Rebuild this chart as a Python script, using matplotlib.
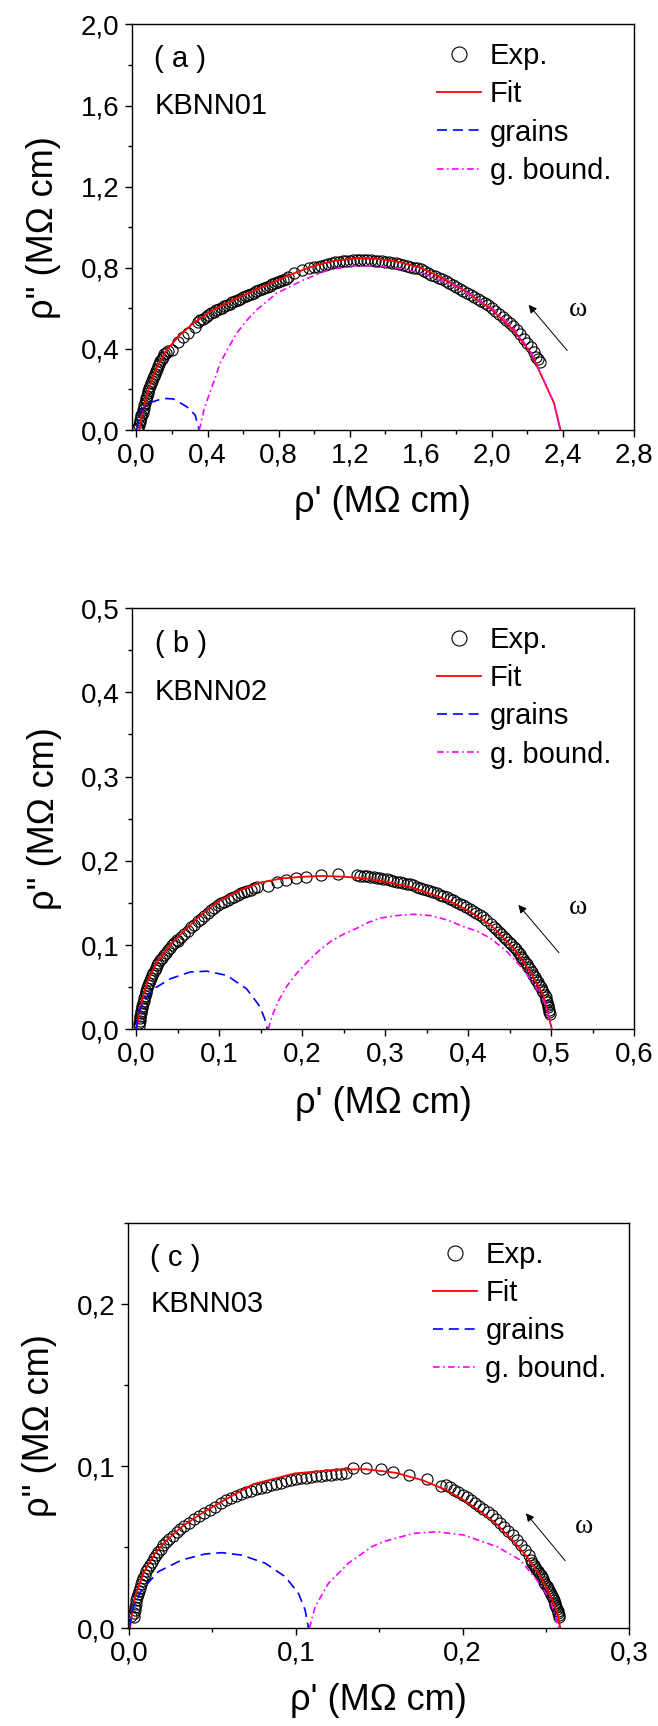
import matplotlib
matplotlib.use('Agg')
import matplotlib.pyplot as plt
from matplotlib.ticker import MultipleLocator, FuncFormatter

plt.rcParams['font.family'] = ['Liberation Sans', 'DejaVu Sans']

# ---------------- panel (a) KBNN01 ----------------
a_exp_x = [0.005, 0.009, 0.0135, 0.017, 0.02, 0.024, 0.028, 0.0345, 0.038, 0.041, 0.045, 0.048,
           0.052, 0.055, 0.059, 0.062, 0.066, 0.0705, 0.076, 0.081, 0.086, 0.0915, 0.097, 0.102,
           0.107, 0.113, 0.1195, 0.127, 0.134, 0.142, 0.149, 0.157, 0.168, 0.18,
           0.198, 0.236, 0.264, 0.292, 0.33,
           0.345, 0.36, 0.375, 0.39, 0.405, 0.42, 0.435, 0.45, 0.465, 0.48, 0.495, 0.51, 0.525,
           0.54, 0.555, 0.57, 0.585, 0.60, 0.615, 0.63, 0.645, 0.66, 0.675, 0.69, 0.705, 0.72,
           0.735, 0.75, 0.765, 0.78, 0.795, 0.81, 0.825, 0.84, 0.855,
           0.886, 0.929, 0.969,
           1.00, 1.02, 1.04, 1.06, 1.08, 1.10, 1.12, 1.14, 1.16, 1.18, 1.20, 1.22, 1.24, 1.26,
           1.28, 1.30, 1.32, 1.34, 1.36, 1.38, 1.40, 1.42, 1.44, 1.46, 1.48, 1.50, 1.52, 1.54,
           1.56, 1.58, 1.60, 1.62, 1.64, 1.66, 1.68, 1.70, 1.72, 1.74, 1.76, 1.78, 1.80, 1.82,
           1.84, 1.86, 1.88, 1.90, 1.92, 1.94, 1.96, 1.98, 2.00, 2.02, 2.04, 2.06, 2.08, 2.10,
           2.12, 2.14, 2.16, 2.18, 2.20, 2.22, 2.235, 2.25, 2.262, 2.272]
a_exp_y = [0.01, 0.012, 0.025, 0.038, 0.05, 0.062, 0.074, 0.086, 0.098, 0.11, 0.122, 0.134,
           0.146, 0.158, 0.17, 0.182, 0.194, 0.206, 0.218, 0.23, 0.242, 0.254, 0.266, 0.278,
           0.29, 0.302, 0.314, 0.326, 0.338, 0.35, 0.362, 0.374, 0.381, 0.388,
           0.395, 0.436, 0.461, 0.477, 0.51,
           0.532, 0.540, 0.549, 0.558, 0.567, 0.575, 0.584, 0.590, 0.597, 0.604, 0.610, 0.617, 0.623,
           0.630, 0.636, 0.642, 0.648, 0.654, 0.660, 0.666, 0.671, 0.677, 0.683, 0.689, 0.695, 0.700,
           0.706, 0.712, 0.718, 0.723, 0.729, 0.735, 0.741, 0.746, 0.752,
           0.775, 0.79, 0.80,
           0.802, 0.806, 0.811, 0.815, 0.819, 0.823, 0.827, 0.829, 0.831, 0.833, 0.835, 0.837, 0.838, 0.838,
           0.837, 0.836, 0.836, 0.835, 0.835, 0.833, 0.83, 0.828, 0.825, 0.822, 0.82, 0.815, 0.811, 0.806,
           0.801, 0.797, 0.792, 0.783, 0.775, 0.766, 0.757, 0.75, 0.745, 0.735, 0.726, 0.716, 0.706, 0.697,
           0.687, 0.677, 0.666, 0.656, 0.646, 0.636, 0.625, 0.614, 0.602, 0.588, 0.573, 0.558, 0.544, 0.528,
           0.514, 0.493, 0.472, 0.451, 0.43, 0.408, 0.385, 0.362, 0.348, 0.336]
a_fit_x = [0.016, 0.025, 0.038, 0.067, 0.114, 0.17, 0.245, 0.32, 0.433, 0.564, 0.714, 0.85, 1.0,
           1.12, 1.24, 1.36, 1.48, 1.6, 1.72, 1.84, 1.99, 2.12, 2.22, 2.29, 2.35, 2.386]
a_fit_y = [0.0, 0.05, 0.099, 0.198, 0.305, 0.395, 0.469, 0.527, 0.593, 0.650, 0.708, 0.76, 0.81,
           0.835, 0.846, 0.843, 0.828, 0.80, 0.748, 0.69, 0.600, 0.494, 0.379, 0.247, 0.132, 0.0]
a_gr_x = [0.001, 0.02, 0.066, 0.151, 0.207, 0.283, 0.33, 0.348, 0.352]
a_gr_y = [0.0, 0.082, 0.132, 0.156, 0.153, 0.115, 0.074, 0.016, 0.0]
a_gb_x = [0.352, 0.358, 0.38, 0.405, 0.44, 0.47, 0.52, 0.564, 0.62, 0.677, 0.79, 0.94, 1.08,
          1.22, 1.36, 1.5, 1.64, 1.78, 1.9, 2.0, 2.12, 2.22, 2.29, 2.35, 2.386]
a_gb_y = [0.0, 0.016, 0.1, 0.165, 0.25, 0.329, 0.41, 0.477, 0.54, 0.593, 0.675, 0.74, 0.79,
          0.81, 0.81, 0.795, 0.765, 0.715, 0.655, 0.602, 0.505, 0.385, 0.25, 0.132, 0.0]

# ---------------- panel (b) KBNN02 ----------------
b_exp_x = [0.0027, 0.0033, 0.0039, 0.0044, 0.005, 0.0055, 0.0061, 0.0066, 0.0073, 0.0081, 0.0089,
           0.0098, 0.0106, 0.0114, 0.0122, 0.0131, 0.0139, 0.0147, 0.016, 0.0175, 0.019, 0.0205,
           0.022, 0.0235, 0.025, 0.0265, 0.0286, 0.031, 0.0334, 0.0358, 0.0382, 0.0406, 0.043,
           0.046, 0.049,
           0.05, 0.054, 0.058, 0.062, 0.066, 0.07, 0.074, 0.078, 0.082, 0.086, 0.09, 0.094, 0.098,
           0.102, 0.106, 0.11, 0.114, 0.118, 0.122, 0.126, 0.13, 0.134, 0.138, 0.142, 0.146,
           0.159, 0.17, 0.18, 0.192, 0.205, 0.223, 0.243,
           0.266, 0.27, 0.274, 0.278, 0.282, 0.286, 0.29, 0.294, 0.298, 0.302, 0.306, 0.31, 0.314,
           0.318, 0.322, 0.326, 0.33, 0.334, 0.338, 0.342, 0.346, 0.35, 0.354, 0.358, 0.362, 0.366,
           0.37, 0.374, 0.378, 0.382, 0.386, 0.39, 0.394, 0.398, 0.402, 0.406, 0.41, 0.414, 0.418,
           0.422,
           0.428, 0.431, 0.434, 0.437, 0.44, 0.443, 0.446, 0.449, 0.452, 0.455, 0.4577, 0.4599,
           0.462, 0.4641, 0.4663, 0.4684, 0.4706, 0.4727, 0.4749, 0.477, 0.4787, 0.4804, 0.4821,
           0.4839, 0.4856, 0.4873, 0.489, 0.4907, 0.4924, 0.4935, 0.4943, 0.495, 0.4958, 0.4965,
           0.4973, 0.498, 0.4985]
b_exp_y = [0.004, 0.007, 0.01, 0.013, 0.016, 0.019, 0.022, 0.025, 0.028, 0.031, 0.034,
           0.037, 0.04, 0.043, 0.046, 0.049, 0.052, 0.055, 0.058, 0.061, 0.064, 0.067,
           0.07, 0.073, 0.076, 0.079, 0.082, 0.085, 0.088, 0.091, 0.094, 0.097, 0.1,
           0.103, 0.106,
           0.105, 0.109, 0.113, 0.117, 0.121, 0.124, 0.128, 0.131, 0.135, 0.138, 0.141, 0.144, 0.147,
           0.1495, 0.1515, 0.1535, 0.1555, 0.1575, 0.1595, 0.1614, 0.1629, 0.1644, 0.1659, 0.1674, 0.1689,
           0.17, 0.1744, 0.1766, 0.179, 0.181, 0.1836, 0.1845,
           0.1835, 0.1825, 0.1822, 0.1817, 0.1811, 0.1804, 0.1798, 0.1791, 0.1785, 0.1778, 0.177, 0.1761, 0.1753,
           0.1745, 0.1737, 0.1728, 0.172, 0.1707, 0.1693, 0.168, 0.1667, 0.1653, 0.164, 0.1626, 0.1612, 0.1598,
           0.1584, 0.157, 0.155, 0.153, 0.151, 0.149, 0.147, 0.145, 0.1427, 0.1402, 0.1377, 0.1352, 0.1327,
           0.1301,
           0.125, 0.122, 0.119, 0.116, 0.113, 0.11, 0.107, 0.104, 0.101, 0.098, 0.095, 0.092,
           0.089, 0.086, 0.083, 0.08, 0.077, 0.074, 0.071, 0.068, 0.065, 0.062, 0.059,
           0.056, 0.053, 0.05, 0.047, 0.044, 0.041, 0.038, 0.035, 0.032, 0.029, 0.026,
           0.023, 0.02, 0.018]
b_fit_x = [0.0, 0.005, 0.013, 0.025, 0.041, 0.053, 0.075, 0.099, 0.125, 0.149, 0.175, 0.2, 0.225,
           0.251, 0.276, 0.301, 0.33, 0.354, 0.374, 0.4, 0.427, 0.455, 0.475, 0.491, 0.501]
b_fit_y = [0.0, 0.027, 0.056, 0.08, 0.1, 0.112, 0.133, 0.152, 0.165, 0.174, 0.179, 0.181, 0.182,
           0.181, 0.179, 0.175, 0.169, 0.161, 0.154, 0.141, 0.124, 0.096, 0.068, 0.04, 0.0]
b_gr_x = [0.0, 0.003, 0.01, 0.021, 0.041, 0.065, 0.085, 0.109, 0.133, 0.149, 0.155, 0.158]
b_gr_y = [0.0, 0.02, 0.036, 0.048, 0.06, 0.068, 0.069, 0.064, 0.048, 0.027, 0.012, 0.0]
b_gb_x = [0.159, 0.162, 0.165, 0.172, 0.182, 0.193, 0.206, 0.22, 0.234, 0.25, 0.266, 0.28, 0.294,
          0.314, 0.334, 0.354, 0.374, 0.394, 0.412, 0.427, 0.447, 0.465, 0.48, 0.492, 0.501]
b_gb_y = [0.0, 0.01, 0.019, 0.035, 0.052, 0.066, 0.08, 0.093, 0.104, 0.113, 0.12, 0.127, 0.132,
          0.135, 0.1365, 0.135, 0.13, 0.122, 0.116, 0.108, 0.092, 0.073, 0.053, 0.032, 0.0]

# ---------------- panel (c) KBNN03 ----------------
c_exp_x = [0.0013, 0.0027, 0.003, 0.0033, 0.0036, 0.0039, 0.0042, 0.0045, 0.0052, 0.0059, 0.0066,
           0.0073, 0.0079, 0.0086, 0.0093, 0.0103, 0.0114, 0.0126, 0.0137, 0.0148, 0.016, 0.0173,
           0.0189, 0.0206, 0.0223, 0.0242, 0.0264, 0.0286, 0.0308, 0.0332, 0.0361, 0.039, 0.0419,
           0.045, 0.0483, 0.0516, 0.055,
           0.058, 0.061, 0.064, 0.067, 0.070, 0.073, 0.076, 0.079, 0.082, 0.085, 0.088, 0.091,
           0.094, 0.097, 0.100, 0.103, 0.106, 0.109, 0.112, 0.115, 0.118, 0.121, 0.124, 0.127, 0.130,
           0.1345, 0.142, 0.151, 0.158, 0.168, 0.1785, 0.187,
           0.19, 0.1925, 0.195, 0.1975, 0.2, 0.2025, 0.205, 0.2075, 0.21, 0.2125, 0.215, 0.2175,
           0.22, 0.2225, 0.225, 0.2275, 0.23, 0.2325, 0.235, 0.2375, 0.24,
           0.2409, 0.2417, 0.2426, 0.2434, 0.2443, 0.2452, 0.246, 0.2469, 0.2477, 0.2483, 0.249,
           0.2497, 0.2504, 0.2511, 0.2517, 0.2524, 0.2531, 0.2537, 0.2542, 0.2547, 0.2552, 0.2557,
           0.2563, 0.2568, 0.2573, 0.2575, 0.2578, 0.258]
c_exp_y = [0.0074, 0.007, 0.009, 0.011, 0.013, 0.015, 0.017, 0.019, 0.021, 0.023, 0.025,
           0.027, 0.029, 0.031, 0.033, 0.035, 0.037, 0.039, 0.041, 0.043, 0.045, 0.047,
           0.049, 0.051, 0.053, 0.055, 0.057, 0.059, 0.061, 0.063, 0.065, 0.067, 0.069,
           0.071, 0.073, 0.075, 0.077,
           0.0792, 0.0803, 0.0815, 0.0827, 0.0838, 0.0848, 0.0857, 0.0865, 0.0873, 0.0881, 0.0889, 0.0897,
           0.0905, 0.0913, 0.092, 0.0925, 0.0929, 0.0933, 0.0936, 0.0939, 0.0942, 0.0945, 0.0948, 0.0952, 0.0958,
           0.0985, 0.0988, 0.098, 0.0962, 0.0945, 0.0918, 0.0878,
           0.0884, 0.0869, 0.0854, 0.0839, 0.0824, 0.0807, 0.0789, 0.0772, 0.0754, 0.0735, 0.0715, 0.0695,
           0.0675, 0.0649, 0.0623, 0.0597, 0.0571, 0.0541, 0.0511, 0.0481, 0.0449,
           0.0417, 0.0404, 0.0391, 0.0378, 0.0365, 0.0352, 0.0339, 0.0326, 0.0313, 0.030, 0.0287,
           0.0274, 0.0261, 0.0248, 0.0235, 0.0222, 0.0209, 0.0196, 0.0183, 0.017, 0.0157, 0.0144,
           0.0131, 0.0118, 0.0105, 0.0092, 0.0079, 0.0068]
c_fit_x = [0.0006, 0.0036, 0.0086, 0.0156, 0.0216, 0.0316, 0.0436, 0.0556, 0.0742, 0.0993, 0.1245,
           0.142, 0.16, 0.176, 0.1906, 0.2006, 0.2106, 0.2206, 0.2306, 0.2386, 0.2466, 0.2526,
           0.2566, 0.2586]
c_fit_y = [0.0, 0.0193, 0.0338, 0.0461, 0.0533, 0.0625, 0.0708, 0.078, 0.0887, 0.0954, 0.0977,
           0.098, 0.0958, 0.0912, 0.085, 0.079, 0.072, 0.064, 0.0535, 0.044, 0.032, 0.0205,
           0.0105, 0.0]
c_gr_x = [0.0, 0.0026, 0.0076, 0.0176, 0.0316, 0.0456, 0.0556, 0.0676, 0.0816, 0.0936, 0.1016,
          0.1056, 0.1076]
c_gr_y = [0.0, 0.0131, 0.0235, 0.0348, 0.042, 0.0457, 0.0465, 0.045, 0.04, 0.0317, 0.0214,
          0.0111, 0.0]
c_gb_x = [0.1082, 0.1116, 0.1196, 0.1316, 0.1456, 0.1526, 0.1706, 0.1846, 0.2006, 0.2206, 0.2346,
          0.2446, 0.2526, 0.2576]
c_gb_y = [0.0, 0.0131, 0.0276, 0.04, 0.0502, 0.0533, 0.0584, 0.0594, 0.0574, 0.0502, 0.042,
          0.0296, 0.0173, 0.0]

panels = [
    dict(tag='( a )', name='KBNN01', exp=(a_exp_x, a_exp_y), fit=(a_fit_x, a_fit_y),
         gr=(a_gr_x, a_gr_y), gb=(a_gb_x, a_gb_y),
         xlim=(-0.027, 2.8), ylim=(0, 2.0), xmaj=0.4, ymaj=0.4,
         arrow=((2.424, 0.392), (2.207, 0.617)), omega=(2.436, 0.593),
         rect=[131.7, 24.4, 634, 430]),
    dict(tag='( b )', name='KBNN02', exp=(b_exp_x, b_exp_y), fit=(b_fit_x, b_fit_y),
         gr=(b_gr_x, b_gr_y), gb=(b_gb_x, b_gb_y),
         xlim=(-0.0052, 0.6), ylim=(0, 0.5), xmaj=0.1, ymaj=0.1,
         arrow=((0.5096, 0.0908), (0.4606, 0.1477)), omega=(0.522, 0.145),
         rect=[132, 608, 634, 1029.3]),
    dict(tag='( c )', name='KBNN03', exp=(c_exp_x, c_exp_y), fit=(c_fit_x, c_fit_y),
         gr=(c_gr_x, c_gr_y), gb=(c_gb_x, c_gb_y),
         xlim=(-0.0008, 0.3), ylim=(0, 0.25), xmaj=0.1, ymaj=0.1,
         arrow=((0.2616, 0.0415), (0.238, 0.0708)), omega=(0.2676, 0.0625),
         rect=[127.7, 1223, 629.3, 1628]),
]

W, H = 658, 1726
fig = plt.figure(figsize=(W / 100, H / 100), dpi=100)
comma = FuncFormatter(lambda v, p: f'{v:.1f}'.replace('.', ','))

for p in panels:
    l, t, r, b = p['rect']
    ax = fig.add_axes([l / W, 1 - b / H, (r - l) / W, (b - t) / H])

    ax.plot(*p['exp'], 'o', ms=8, mfc='none', mec='black', mew=0.8, label='Exp.')
    ax.plot(*p['fit'], '-', color='#ff0000', lw=1.3, label='Fit')
    ax.plot(*p['gr'], color='#0000ff', lw=1.2, dashes=(6, 3.5), label='grains')
    ax.plot(*p['gb'], color='#ff00ff', lw=1.2, dashes=(4, 2, 1, 2), label='g. bound.')

    ax.set_xlim(*p['xlim'])
    ax.set_ylim(*p['ylim'])
    ax.xaxis.set_major_locator(MultipleLocator(p['xmaj']))
    ax.xaxis.set_minor_locator(MultipleLocator(p['xmaj'] / 2))
    ax.yaxis.set_major_locator(MultipleLocator(p['ymaj']))
    ax.yaxis.set_minor_locator(MultipleLocator(p['ymaj'] / 2))
    ax.xaxis.set_major_formatter(comma)
    ax.yaxis.set_major_formatter(comma)
    ax.tick_params(which='both', direction='out', top=False, right=False, width=1.0,
                   labelsize=20)
    ax.tick_params(which='major', length=4.8, pad=4)
    ax.tick_params(which='minor', length=2.8)
    for s in ax.spines.values():
        s.set_linewidth(1.0)

    ax.set_xlabel("ρ' (MΩ cm)", fontsize=26)
    ax.set_ylabel('ρ" (MΩ cm)', fontsize=26)
    ax.xaxis.set_label_coords(0.5, -0.135)
    ax.yaxis.set_label_coords(-0.14, 0.5)

    ax.text(0.045, 0.914, p['tag'], transform=ax.transAxes, fontsize=21, va='center', ha='left')
    ax.text(0.045, 0.80, p['name'], transform=ax.transAxes, fontsize=21, va='center', ha='left')

    ax.annotate('', xy=p['arrow'][1], xytext=p['arrow'][0],
                arrowprops=dict(arrowstyle='-|>', lw=0.7, color='black',
                                mutation_scale=12, shrinkA=0, shrinkB=0))
    ax.text(*p['omega'], 'ω', fontsize=20, family='Liberation Serif', va='center', ha='left')

    ax.legend(loc='upper left', bbox_to_anchor=(0.585, 0.985), frameon=False, fontsize=21,
              handlelength=1.5, handletextpad=0.3, labelspacing=0.35, borderaxespad=0,
              borderpad=0.4, markerscale=1.35)

fig.savefig('out.png', dpi=100)
